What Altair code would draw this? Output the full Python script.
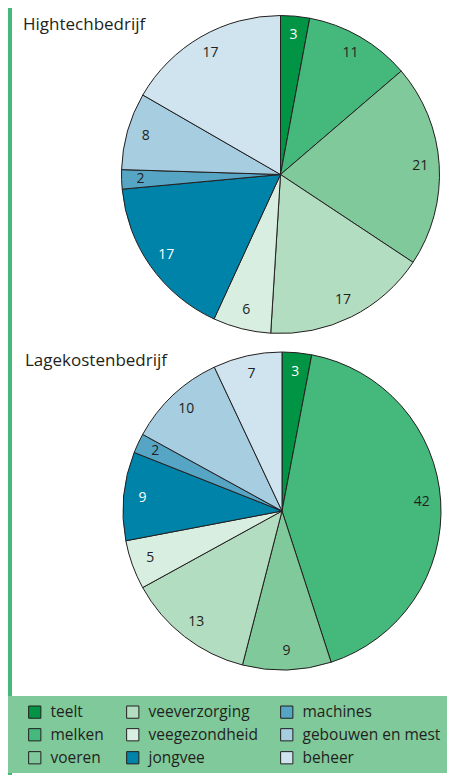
import altair as alt
import pandas as pd

# ---- data ----
categories = ["teelt", "melken", "voeren", "veeverzorging", "veegezondheid",
              "jongvee", "machines", "gebouwen en mest", "beheer"]
hightech = [3, 11, 21, 17, 6, 17, 2, 8, 17]
lagekosten = [3, 42, 9, 13, 5, 9, 2, 10, 7]
bedrijven = ["Hightechbedrijf", "Lagekostenbedrijf"]
colors = ["#009444", "#45b97c", "#80c99a", "#b2ddc1", "#d8eee0",
          "#0083a8", "#56a5c4", "#a6cde0", "#cfe4ef"]

INK = "#231f20"
FONT = "Open Sans"
W, H = 439, 767

color_scale = alt.Scale(domain=categories, range=colors)


def frame(values):
    return pd.DataFrame({"cat": categories, "value": values,
                         "idx": list(range(len(categories)))})


white_cats = ["teelt", "jongvee"]
text_color = alt.condition(
    " || ".join(f"datum.cat == '{c}'" for c in white_cats),
    alt.value("white"), alt.value(INK))


def pie(values, cx, cy):
    base = alt.Chart(frame(values)).encode(
        theta=alt.Theta("value:Q", stack=True),
        order=alt.Order("idx:Q"),
    )
    arc = base.mark_arc(outerRadius=159, stroke=INK, strokeWidth=1).encode(
        color=alt.Color("cat:N", scale=color_scale, legend=alt.Legend(
            title=None, orient="none", legendX=19, legendY=696, columns=3,
            symbolType="square", symbolSize=150, symbolStrokeColor=INK,
            symbolStrokeWidth=1, labelFont=FONT, labelFontSize=15.5,
            labelColor=INK, labelOffset=8, columnPadding=20, rowPadding=5,
            labelLimit=300, padding=0)),
        x=alt.value(cx), y=alt.value(cy),
    )
    txt = base.mark_text(radius=140, font=FONT, fontSize=14).encode(
        text="value:Q", color=text_color, x=alt.value(cx), y=alt.value(cy),
    )
    return alt.layer(arc, txt)


titles = pd.DataFrame({"bedrijf": bedrijven})
title_top = alt.Chart(titles).transform_filter(
    alt.datum.bedrijf == bedrijven[0]).mark_text(
    align="left", baseline="alphabetic", font=FONT, fontSize=17, color=INK
).encode(text="bedrijf:N", x=alt.value(15), y=alt.value(21.5))
title_bot = alt.Chart(titles).transform_filter(
    alt.datum.bedrijf == bedrijven[1]).mark_text(
    align="left", baseline="alphabetic", font=FONT, fontSize=17, color=INK
).encode(text="bedrijf:N", x=alt.value(17), y=alt.value(358))

one = alt.Data(values=[{}])
side_bar = alt.Chart(one).mark_rect(color="#45b97c").encode(
    x=alt.value(0), x2=alt.value(4), y=alt.value(0), y2=alt.value(H))
legend_bg = alt.Chart(one).mark_rect(color="#80c99a").encode(
    x=alt.value(0), x2=alt.value(W), y=alt.value(688), y2=alt.value(765))

pies = alt.layer(pie(hightech, 272.5, 166.5),
                 pie(lagekosten, 274, 503)).resolve_scale(theta="independent")

chart = alt.layer(side_bar, legend_bg, title_top, title_bot, pies).properties(
    width=W, height=H, padding=0,
    autosize=alt.AutoSizeParams(type="none"),
).configure_view(stroke=None)

chart.save("out.html", embed_options={"renderer": "svg", "actions": False})
